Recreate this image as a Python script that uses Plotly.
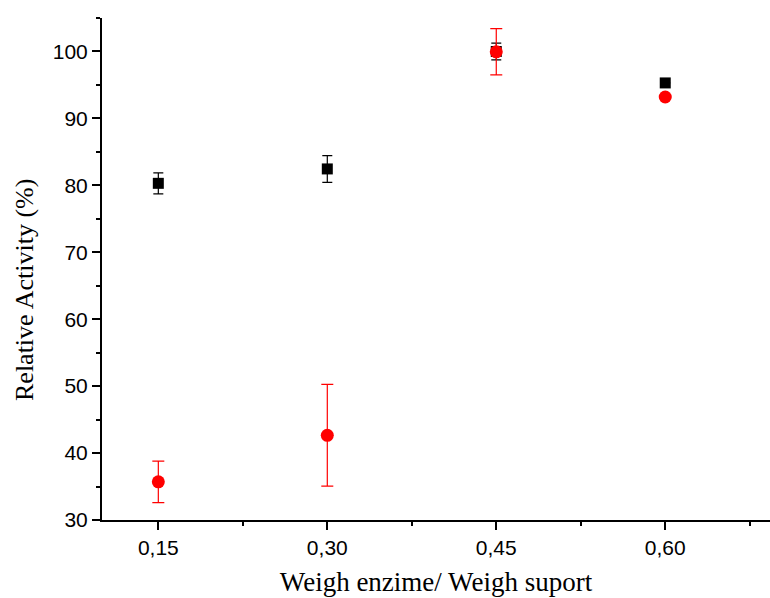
import plotly.graph_objects as go

x_vals = [0.15, 0.30, 0.45, 0.60]
black_y = [80.3, 82.45, 100.0, 95.3]
black_err = [1.57, 2.0, 1.25, 0.0]
red_y = [35.7, 42.65, 99.95, 93.2]
red_err = [3.1, 7.6, 3.45, 0.0]

fig = go.Figure()
fig.add_trace(go.Scatter(
    x=x_vals, y=black_y, mode="markers",
    marker=dict(symbol="square", size=11, color="black"),
    error_y=dict(type="data", array=black_err, visible=True, color="black", thickness=1.2, width=5),
    showlegend=False))
fig.add_trace(go.Scatter(
    x=x_vals, y=red_y, mode="markers",
    marker=dict(symbol="circle", size=13, color="red"),
    error_y=dict(type="data", array=red_err, visible=True, color="red", thickness=1.2, width=6),
    showlegend=False))

fig.update_layout(
    width=770, height=598,
    margin=dict(l=102, r=0, t=18, b=78),
    plot_bgcolor="white", paper_bgcolor="white",
    separators=", ",
    font=dict(family="Liberation Sans, Arial", size=21, color="black"),
)
fig.update_xaxes(
    range=[0.10, 0.693], showgrid=False, zeroline=False,
    showline=True, linecolor="black", linewidth=2,
    ticks="outside", ticklen=8, tickwidth=2, tickcolor="black",
    tick0=0.15, dtick=0.15, tickformat=".2f",
    minor=dict(ticks="outside", ticklen=4, tickwidth=2, tickcolor="black", tick0=0.075, dtick=0.15),
    title=dict(text="Weigh enzime/ Weigh suport", font=dict(family="Liberation Serif, Times New Roman", size=27), standoff=14),
)
fig.update_yaxes(
    range=[30, 105], showgrid=False, zeroline=False,
    showline=True, linecolor="black", linewidth=2,
    ticks="outside", ticklen=8, tickwidth=2, tickcolor="black",
    tick0=30, dtick=10,
    minor=dict(ticks="outside", ticklen=4, tickwidth=2, tickcolor="black", tick0=35, dtick=10),
)
fig.add_annotation(
    text="Relative Activity (%)", textangle=-90, showarrow=False,
    xref="paper", yref="paper", x=(24 - 102) / 668, y=(520 - 290) / 502,
    xanchor="center", yanchor="middle",
    font=dict(family="Liberation Serif, Times New Roman", size=26, color="black"),
)

fig.write_html("out.html")
